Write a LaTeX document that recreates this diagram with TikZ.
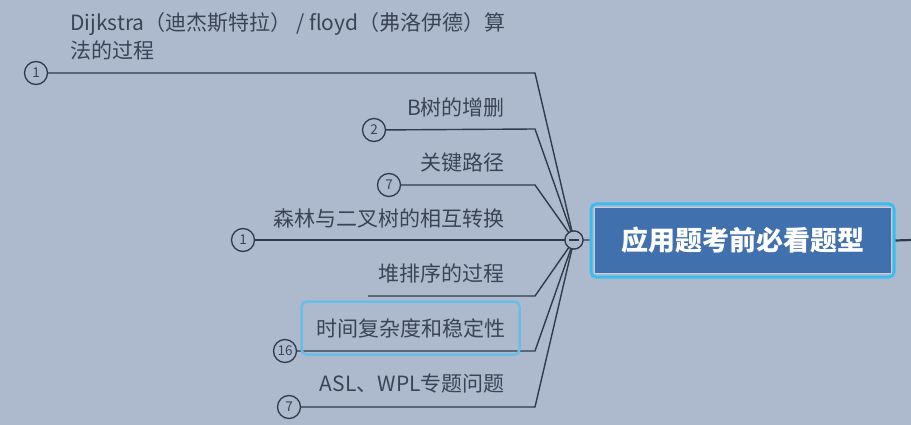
\documentclass[tikz,border=0pt]{standalone}
\usepackage{fontspec}
\setmainfont{Noto Sans CJK SC}
\usetikzlibrary{positioning}
\definecolor{mapbg}{RGB}{173,186,205}
\definecolor{rootblue}{RGB}{64,112,174}
\definecolor{ringblue}{RGB}{58,190,242}
\definecolor{markblue}{RGB}{104,190,232}
\definecolor{inkgray}{RGB}{58,68,86}
\definecolor{linegray}{RGB}{48,58,76}

\begin{document}
\begin{tikzpicture}[x=1pt, y=-1pt,
        topic/.style={inner sep=0pt, text=inkgray, font=\fontsize{21}{28}\selectfont},
        count/.style={circle, draw=linegray, line width=1.3pt, fill=mapbg,
                      minimum size=23pt, inner sep=0pt, text=inkgray,
                      font=\fontsize{13.5}{13.5}\selectfont},
        branch/.style={draw=linegray, line width=1.4pt}
      ]
        \fill[mapbg] (0,0) rectangle (911,425);
        \useasboundingbox (0,0) rectangle (911,425);

        % central topic
        \node[draw=ringblue, line width=3pt, rounded corners=5pt,
              minimum width=303pt, minimum height=73pt] (ring) at (742.5,240.5) {};
        \node[draw=mapbg!70!white, line width=0.8pt, fill=rootblue,
              minimum width=297pt, minimum height=66pt, text=white,
              font=\fontsize{27}{27}\selectfont\bfseries] (root) at (742.5,240.5) {应用题考前必看题型};
        \coordinate (tail) at (911,240);
        \draw[branch, line width=2.2pt] (ring.east) -- (tail);

        % elbows
        \coordinate (e1) at (535,73);
        \coordinate (e2) at (535,129);
        \coordinate (e3) at (535,185);
        \coordinate (e4) at (535,240);
        \coordinate (e5) at (535,296);
        \coordinate (e6) at (535,351);
        \coordinate (e7) at (535,407);
        \coordinate (stub) at (368,296);

        % counters
        \node[count] (n1) at (36,73) {1};
        \node[count] (n2) at (374,130) {2};
        \node[count] (n3) at (389,185) {7};
        \node[count] (n4) at (243,240) {1};
        \node[count] (n6) at (285,351) {16};
        \node[count] (n7) at (289,407) {7};

        % hub
        \node[circle, draw=linegray, line width=1.2pt, fill=mapbg,
              minimum size=18pt, inner sep=0pt] (hub) at (574,240) {};

        \foreach \k in {1,2,3,6,7}
          \draw[branch] (n\k) -- (e\k) -- (hub.center);
        \draw[branch] (n4) -- (hub.center);
        \draw[branch] (stub) -- (e5) -- (hub.center);
        \draw[branch] (hub) -- (ring);

        \node[circle, draw=linegray, line width=1.2pt, fill=mapbg,
              minimum size=18pt, inner sep=0pt] at (hub) {};
        \draw[linegray, line width=1.2pt] ([xshift=-5pt]hub.center) -- ([xshift=5pt]hub.center);

        % labels
        \node[topic, anchor=west, align=left] (t1) at (70,36)
              {Dijkstra（迪杰斯特拉） / floyd（弗洛伊德）算\\法的过程};
        \node[topic, anchor=east] (t2) at (505,107) {B树的增删};
        \node[topic, anchor=east] (t3) at (505,163) {关键路径};
        \node[topic, anchor=east] (t4) at (505,218) {森林与二叉树的相互转换};
        \node[topic, anchor=east] (t5) at (505,273) {堆排序的过程};
        \node[topic, draw=markblue, line width=2.5pt, rounded corners=5pt,
              minimum width=218pt, minimum height=53pt] (t6) at (410.5,328) {时间复杂度和稳定性};
        \node[topic, anchor=east] (t7) at (505,384) {ASL、WPL专题问题};
      \end{tikzpicture}
\end{document}
